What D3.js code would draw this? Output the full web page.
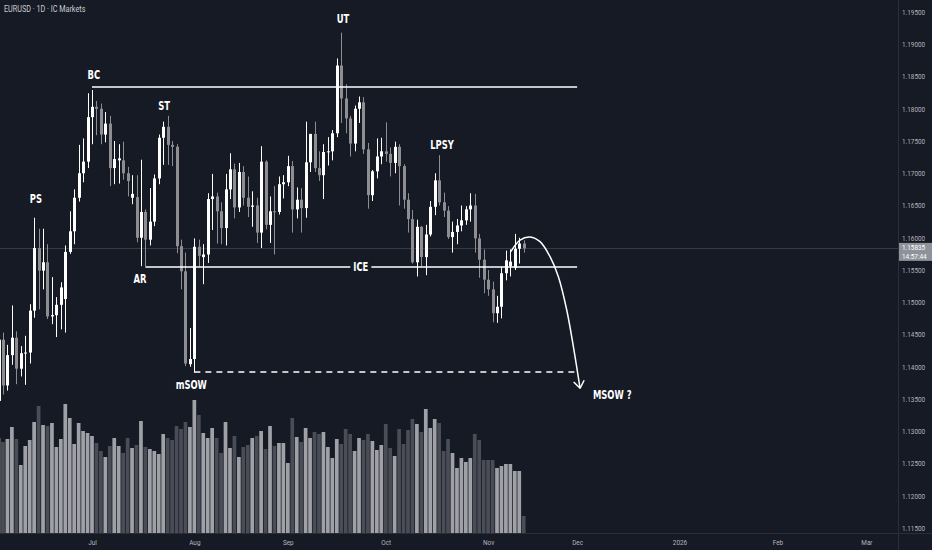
<!DOCTYPE html>
<html><head><meta charset="utf-8">
<script src="https://cdn.jsdelivr.net/npm/d3@7"></script>
<style>
html,body{margin:0;padding:0;background:#161a25;overflow:hidden;}
svg{display:block;}
</style></head><body>
<svg id="c" width="932" height="550"></svg>
<script>
// ---- DATA (EURUSD daily, first bar 2025-06-02, weekdays) ----
const firstDate = "2025-06-02";
const open  = [1.1347,1.1442,1.1371,1.1418,1.1445,1.1397,1.1421,1.1422,1.1487,1.1584,1.1549,1.1562,1.1478,1.1480,1.1496,1.1505,1.1578,1.1610,1.1662,1.1700,1.1718,
1.1787,1.1803,1.1800,1.1760,1.1777,1.1708,1.1720,1.1720,1.1700,1.1662,1.1663,1.1600,1.1640,1.1597,1.1625,1.1692,1.1755,1.1772,1.1744,1.1741,1.1587,1.1548,1.1404,
1.1412,1.1586,1.1570,1.1574,1.1660,1.1664,1.1641,1.1615,1.1675,1.1706,1.1647,1.1702,1.1662,1.1648,1.1650,1.1608,1.1718,1.1620,1.1641,1.1640,1.1683,
1.1686,1.1711,1.1644,1.1659,1.1646,1.1717,1.1761,1.1708,1.1697,1.1733,1.1734,1.1762,1.1867,1.1816,1.1785,1.1746,1.1800,1.1810,1.1737,1.1666,1.1703,1.1726,
1.1734,1.1730,1.1716,1.1741,1.1711,1.1659,1.1629,1.1562,1.1617,1.1570,1.1605,1.1648,1.1689,1.1655,1.1642,1.1601,1.1609,1.1619,1.1627,1.1644,1.1650,1.1599,1.1566,
1.1535,1.1520,1.1483,1.1493,1.1545,1.1556,1.1553,1.1583,1.1591];
const high  = [1.1454,1.1453,1.1434,1.1495,1.1455,1.1432,1.1448,1.1497,1.1631,1.1614,1.1614,1.1590,1.1539,1.1508,1.1531,1.1588,1.1641,1.1675,1.1744,1.1754,1.1824,
1.1829,1.1812,1.1808,1.1795,1.1789,1.1750,1.1745,1.1749,1.1710,1.1697,1.1697,1.1721,1.1644,1.1677,1.1698,1.1760,1.1780,1.1789,1.1750,1.1745,1.1597,1.1577,1.1460,
1.1599,1.1597,1.1590,1.1669,1.1699,1.1670,1.1655,1.1699,1.1731,1.1715,1.1716,1.1711,1.1695,1.1672,1.1662,1.1742,1.1720,1.1664,1.1680,1.1695,1.1697,
1.1727,1.1719,1.1678,1.1677,1.1780,1.1761,1.1780,1.1734,1.1745,1.1756,1.1767,1.1878,1.1918,1.1838,1.1789,1.1805,1.1819,1.1818,1.1747,1.1705,1.1754,1.1755,
1.1779,1.1740,1.1749,1.1745,1.1714,1.1669,1.1643,1.1628,1.1618,1.1620,1.1657,1.1700,1.1728,1.1670,1.1649,1.1625,1.1629,1.1650,1.1649,1.1669,1.1668,1.1606,1.1582,
1.1550,1.1532,1.1510,1.1555,1.1580,1.1582,1.1606,1.1600,1.1596];
const low   = [1.1345,1.1357,1.1363,1.1403,1.1373,1.1385,1.1372,1.1405,1.1476,1.1489,1.1520,1.1474,1.1466,1.1446,1.1458,1.1453,1.1575,1.1590,1.1656,1.1686,1.1708,
1.1745,1.1759,1.1745,1.1748,1.1680,1.1683,1.1684,1.1690,1.1664,1.1652,1.1593,1.1556,1.1556,1.1588,1.1618,1.1683,1.1713,1.1713,1.1711,1.1576,1.1520,1.1401,1.1400,
1.1391,1.1555,1.1528,1.1561,1.1612,1.1591,1.1590,1.1588,1.1660,1.1630,1.1640,1.1650,1.1632,1.1617,1.1592,1.1584,1.1613,1.1592,1.1574,1.1636,1.1661,
1.1680,1.1608,1.1630,1.1608,1.1631,1.1702,1.1702,1.1688,1.1660,1.1712,1.1720,1.1756,1.1778,1.1762,1.1726,1.1734,1.1778,1.1730,1.1645,1.1657,1.1692,1.1714,
1.1718,1.1695,1.1700,1.1650,1.1645,1.1608,1.1560,1.1540,1.1555,1.1542,1.1602,1.1635,1.1650,1.1632,1.1598,1.1577,1.1590,1.1610,1.1620,1.1625,1.1577,1.1538,1.1514,
1.1510,1.1469,1.1468,1.1475,1.1534,1.1540,1.1550,1.1560,1.1577];
const close = [1.1442,1.1371,1.1418,1.1445,1.1397,1.1421,1.1422,1.1487,1.1584,1.1549,1.1562,1.1478,1.1480,1.1496,1.1523,1.1578,1.1610,1.1662,1.1700,1.1718,1.1787,
1.1803,1.1800,1.1760,1.1777,1.1708,1.1722,1.1723,1.1700,1.1688,1.1668,1.1600,1.1640,1.1597,1.1625,1.1692,1.1755,1.1772,1.1744,1.1741,1.1587,1.1548,1.1405,1.1412,
1.1586,1.1572,1.1574,1.1660,1.1664,1.1641,1.1615,1.1675,1.1706,1.1647,1.1702,1.1662,1.1648,1.1650,1.1608,1.1718,1.1620,1.1641,1.1640,1.1683,1.1686,
1.1711,1.1644,1.1659,1.1646,1.1717,1.1761,1.1708,1.1697,1.1733,1.1734,1.1762,1.1867,1.1816,1.1785,1.1746,1.1800,1.1810,1.1737,1.1666,1.1703,1.1726,1.1734,
1.1730,1.1716,1.1741,1.1711,1.1659,1.1629,1.1562,1.1617,1.1570,1.1605,1.1648,1.1689,1.1655,1.1642,1.1601,1.1609,1.1619,1.1627,1.1644,1.1650,1.1599,1.1566,1.1535,
1.1520,1.1483,1.1493,1.1545,1.1565,1.1563,1.1583,1.1591,1.15835];
const volume = [95,91,94,106,94,68,87,93,111,127,108,107,110,86,94,129,115,89,110,102,100,
97,90,82,76,87,95,87,80,95,85,88,112,86,84,82,79,99,95,93,107,104,111,106,
133,118,100,95,105,95,80,111,85,97,76,86,88,95,97,102,84,107,87,90,90,
70,115,96,91,105,95,101,99,101,86,75,94,89,104,99,82,95,93,99,92,83,88,
109,85,77,104,89,103,114,109,101,124,105,114,110,82,94,80,65,75,71,75,99,93,73,
73,73,65,67,69,69,62,62,17];

const priceTicks = [1.115,1.12,1.125,1.13,1.135,1.14,1.145,1.15,1.155,1.16,1.165,1.17,1.175,1.18,1.185,1.19,1.195];
const monthNames = ["Jan","Feb","Mar","Apr","May","Jun","Jul","Aug","Sep","Oct","Nov","Dec"];
const axisMonths = ["2025-07","2025-08","2025-09","2025-10","2025-11","2025-12","2026-01","2026-02","2026-03"];
const lastPrice = 1.15835, countdown = "14:57:44";
const title = "EURUSD · 1D · IC Markets";

// Wyckoff annotations
const levelNames  = ["BC","ICE","mSOW"];
const levelPrices = [1.18337, 1.15547, 1.13919];
const levelFrom   = ["2025-07-01","2025-07-17","2025-08-01"];
const levelTo     = ["2025-12-01","2025-12-01","2025-12-01"];
const levelDash   = [false,false,true];
const labelTexts  = ["PS","BC","AR","ST","mSOW","UT","LPSY","MSOW ?"];
const labelIdx    = [8.4, 21.4, 31.8, 37.2, 43.3, 77.4, 99.65, 137.9];
const labelPrice  = [1.16601,1.18523,1.1536,1.18043,1.13717,1.19391,1.17438,1.13562];
const pathIdx   = [115.09,117.18,119.43,121.67,123.92,125.79,127.67,129.16,130.66];
const pathPrice = [1.15784,1.15965,1.16012,1.15939,1.15706,1.15396,1.1488,1.14311,1.13666];

// ---- calendar (weekday bars) ----
const parse = d3.utcParse("%Y-%m-%d");
const days = d3.utcDays(parse(firstDate), parse("2026-04-01")).filter(d => d.getUTCDay() !== 0 && d.getUTCDay() !== 6);
const fmt = d3.utcFormat("%Y-%m-%d");
const idxOf = s => days.findIndex(d => fmt(d) === s);

const W = 932, H = 550, paneR = 898, paneB = 533;
const BG = "#161a25";
const font = "'DejaVu Sans',sans-serif";
const axFont = "Roboto,'DejaVu Sans',sans-serif";
const squeeze = (sel, f) => sel.each(function(){
  const w = this.getComputedTextLength();
  d3.select(this).attr("textLength", w*f).attr("lengthAdjust","spacingAndGlyphs");
});

const svg = d3.select("#c");
svg.append("rect").attr("width",W).attr("height",H).attr("fill",BG);

const x = d3.scaleLinear().domain([0.33, 202.1]).range([0, paneR]);
const y = d3.scaleLinear().domain([1.115, 1.195]).range([528, 12]);
const yv = d3.scaleLinear().domain([0, 133]).range([paneB, 400]);

svg.append("clipPath").attr("id","pane").append("rect").attr("x",0).attr("y",0).attr("width",paneR).attr("height",paneB);
const g = svg.append("g").attr("clip-path","url(#pane)");

const up = i => close[i] >= open[i];

// volume
g.append("g").selectAll("rect").data(volume).join("rect")
  .attr("x",(d,i)=>x(i)-1.85).attr("width",3.7)
  .attr("y",d=>yv(d)).attr("height",d=>paneB-yv(d))
  .attr("fill",(d,i)=> up(i) ? "#a0a1a7" : "#4b4d56");

// last price line
g.append("line").attr("x1",0).attr("x2",paneR).attr("y1",Math.round(y(lastPrice))+0.5).attr("y2",Math.round(y(lastPrice))+0.5)
  .attr("stroke","#363a46").attr("stroke-width",1);

// candles
const cg = g.append("g");
close.forEach((c,i)=>{
  const col = up(i) ? "#ffffff" : "#8d8d92";
  const cx = Math.round(x(i))+0.5;
  cg.append("line").attr("x1",cx).attr("x2",cx).attr("y1",y(high[i])).attr("y2",y(low[i])).attr("stroke",col).attr("stroke-width",1);
  const top = y(Math.max(open[i],c)), bot = y(Math.min(open[i],c));
  cg.append("rect").attr("x",cx-1.5).attr("width",3).attr("y",top).attr("height",Math.max(1,bot-top)).attr("fill",col);
});

// levels
levelPrices.forEach((p,k)=>{
  const x1 = x(idxOf(levelFrom[k])), x2 = x(idxOf(levelTo[k]));
  g.append("line").attr("x1",x1).attr("x2",x2).attr("y1",y(p)).attr("y2",y(p))
    .attr("stroke","#ffffff").attr("stroke-width",levelDash[k]?1.5:1.6)
    .attr("stroke-dasharray",levelDash[k]?"6,5":null);
});
// little connector at mSOW
g.append("line").attr("x1",x(idxOf("2025-08-01"))).attr("x2",x(idxOf("2025-08-01")))
  .attr("y1",y(low[idxOf("2025-08-01")])).attr("y2",y(levelPrices[2])).attr("stroke","#ffffff").attr("stroke-width",1);

// labels
const lab = g.append("g").selectAll("text").data(labelTexts).join("text")
  .attr("x",(t,k)=>x(labelIdx[k])).attr("y",(t,k)=>y(labelPrice[k]))
  .attr("text-anchor","middle").attr("dominant-baseline","central")
  .attr("fill","#ffffff").attr("font-family",font).attr("font-weight","bold").attr("font-size",12).text(t=>t);
squeeze(lab, 0.7);
// ICE label with gap in line
{
  const tx = g.append("text").attr("x",x(81.4)).attr("y",y(levelPrices[1]))
    .attr("text-anchor","middle").attr("dominant-baseline","central")
    .attr("fill","#ffffff").attr("font-family",font).attr("font-weight","bold").attr("font-size",12).text(levelNames[1]);
  squeeze(tx, 0.7);
  const bb = tx.node().getBBox();
  g.insert("rect", () => tx.node()).attr("x",bb.x-3).attr("y",bb.y).attr("width",bb.width+6).attr("height",bb.height).attr("fill",BG);
}

// projection arc
const pts = pathIdx.map((d,k)=>[x(d), y(pathPrice[k])]);
g.append("path").attr("d", d3.line().curve(d3.curveCatmullRom)(pts))
  .attr("fill","none").attr("stroke","#ffffff").attr("stroke-width",1.5);
{
  const [a,b] = [pts[pts.length-2], pts[pts.length-1]];
  const ang = Math.atan2(b[1]-a[1], b[0]-a[0]);
  const L = 9;
  [Math.PI*0.8, -Math.PI*0.8].forEach(da=>{
    g.append("line").attr("x1",b[0]).attr("y1",b[1])
      .attr("x2",b[0]+L*Math.cos(ang+da)).attr("y2",b[1]+L*Math.sin(ang+da))
      .attr("stroke","#ffffff").attr("stroke-width",1.5);
  });
}

// axes frame
svg.append("line").attr("x1",paneR+0.5).attr("x2",paneR+0.5).attr("y1",0).attr("y2",H).attr("stroke","#2a2e39");
svg.append("line").attr("x1",0).attr("x2",W).attr("y1",paneB+0.5).attr("y2",paneB+0.5).attr("stroke","#2a2e39");

// price axis
const yAxis = d3.axisRight(y).tickValues(priceTicks).tickFormat(d3.format(".5f")).tickSize(0).tickPadding(4);
const ya = svg.append("g").attr("transform",`translate(${paneR},0)`).call(yAxis);
ya.select(".domain").remove();
squeeze(ya.selectAll("text").attr("fill","#b2b5be").attr("font-family",axFont).attr("font-size",7.5), 0.85);

// time axis
const tickIdx = axisMonths.map(m => days.findIndex(d => fmt(d).startsWith(m)));
const xAxis = d3.axisBottom(x).tickValues(tickIdx).tickSize(0).tickPadding(6)
  .tickFormat(d=>{ const dt = days[d]; return dt.getUTCMonth()===0 ? String(dt.getUTCFullYear()) : monthNames[dt.getUTCMonth()]; });
const xa = svg.append("g").attr("transform",`translate(0,${paneB})`).call(xAxis);
xa.select(".domain").remove();
squeeze(xa.selectAll("text").attr("fill","#b2b5be").attr("font-family",axFont).attr("font-size",8), 0.8);

// last price tag
const ly = y(lastPrice);
svg.append("rect").attr("x",paneR+1).attr("y",ly-5.5).attr("width",W-paneR-1).attr("height",18).attr("fill","#8f929a");
const t1 = svg.append("text").attr("x",paneR+4).attr("y",ly+2).attr("fill","#ffffff").attr("font-family",axFont).attr("font-size",7.5).text(d3.format(".5f")(lastPrice));
const t2 = svg.append("text").attr("x",paneR+4).attr("y",ly+10.5).attr("fill","#ffffff").attr("font-family",axFont).attr("font-size",7.5).text(countdown);
squeeze(t1, 0.85); squeeze(t2, 0.85);

// title
squeeze(svg.append("text").attr("x",4).attr("y",12).attr("fill","#c9ccd4").attr("font-family",axFont).attr("font-size",8.5).text(title), 0.85);
</script>
</body></html>
